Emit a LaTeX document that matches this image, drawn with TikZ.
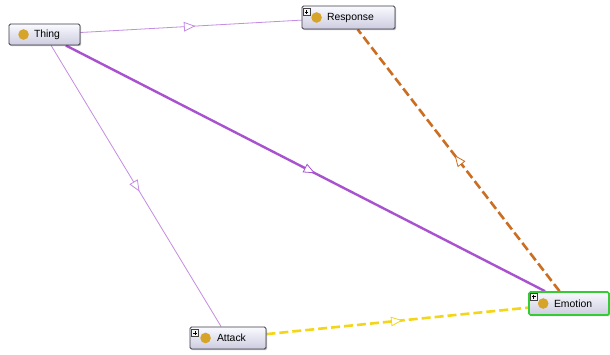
\documentclass[tikz,border=0pt]{standalone}
\usepackage{fontspec}
\setmainfont{Liberation Sans}
\usetikzlibrary{arrows.meta,decorations.markings,shadows,backgrounds}

\definecolor{boxtop}{RGB}{250,250,255}
\definecolor{boxbot}{RGB}{204,204,224}
\definecolor{boxline}{RGB}{60,60,68}
\definecolor{gold}{RGB}{214,164,40}
\definecolor{subthick}{RGB}{168,82,208}
\definecolor{subthin}{RGB}{196,140,226}
\definecolor{orangeprop}{RGB}{204,110,34}
\definecolor{yellowprop}{RGB}{244,214,24}
\definecolor{selgreen}{RGB}{52,204,52}

\begin{document}
\begin{tikzpicture}[x=1pt,y=-1pt,
  cls/.style={rectangle, rounded corners=1.5pt, draw=boxline, line width=0.9pt,
    top color=boxtop, bottom color=boxbot, inner xsep=0pt, inner ysep=0pt,
    align=left, font=\fontsize{10.4}{12}\selectfont,
    drop shadow={shadow xshift=1.2pt, shadow yshift=-1.2pt, opacity=0.25, fill=black}},
  midtip/.style={postaction={decorate, solid, decoration={markings,
    mark=at position 0.52 with {\arrow{Triangle[length=11.5pt,width=9.5pt,fill=white,line width=0.8pt]}}}}},
  subthinline/.style={draw=subthin, line width=0.8pt, midtip},
  subthickline/.style={draw=subthick, line width=2.4pt, midtip},
  propline/.style={draw=#1, line width=2.6pt, dash pattern=on 9pt off 4pt, midtip},
  plusmark/.pic={
    \draw[fill=gray!8, draw=gray!50!black, line width=0.4pt] (0,0) rectangle (7,7);
    \draw[line width=0.6pt] (1.7,3.5) -- (5.3,3.5) (3.5,1.7) -- (3.5,5.3);
  }
]
\useasboundingbox (0,0) rectangle (610,354);

% class boxes
\node[cls, text width=71pt, minimum height=21pt] (thing) at (44.5,34.5) {\hspace*{25pt}Thing};
\node[cls, text width=93pt, minimum height=23pt] (response) at (348.5,17.5) {\hspace*{25pt}Response};
\node[cls, text width=80pt, minimum height=23pt, draw=selgreen, line width=1.6pt] (emotion) at (569,303.5) {\hspace*{25pt}Emotion};
\node[cls, text width=76pt, minimum height=22pt] (attack) at (228,338) {\hspace*{27pt}Attack};

% class icons
\foreach \n/\d in {thing/15, response/15, emotion/15, attack/16}
  \fill[gold] ([xshift=\d pt]\n.west) circle (5.3pt);

% expand markers
\pic at ([xshift=1.5pt, yshift=-3pt]response.north west) {plusmark};
\pic at ([xshift=2pt, yshift=-2pt]emotion.north west) {plusmark};
\pic at ([xshift=2pt, yshift=-3pt]attack.north west) {plusmark};

% relations, behind the boxes
\begin{scope}[on background layer]
  \fill[white] (0,0) rectangle (610,354);
  \path[subthinline] (thing) -- (response);
  \path[subthinline] (thing) -- (attack);
  \path[subthickline] (thing) -- (emotion);
  \path[propline=orangeprop] (emotion) -- (response);
  \path[propline=yellowprop] (attack) -- (emotion);
\end{scope}
\end{tikzpicture}
\end{document}
